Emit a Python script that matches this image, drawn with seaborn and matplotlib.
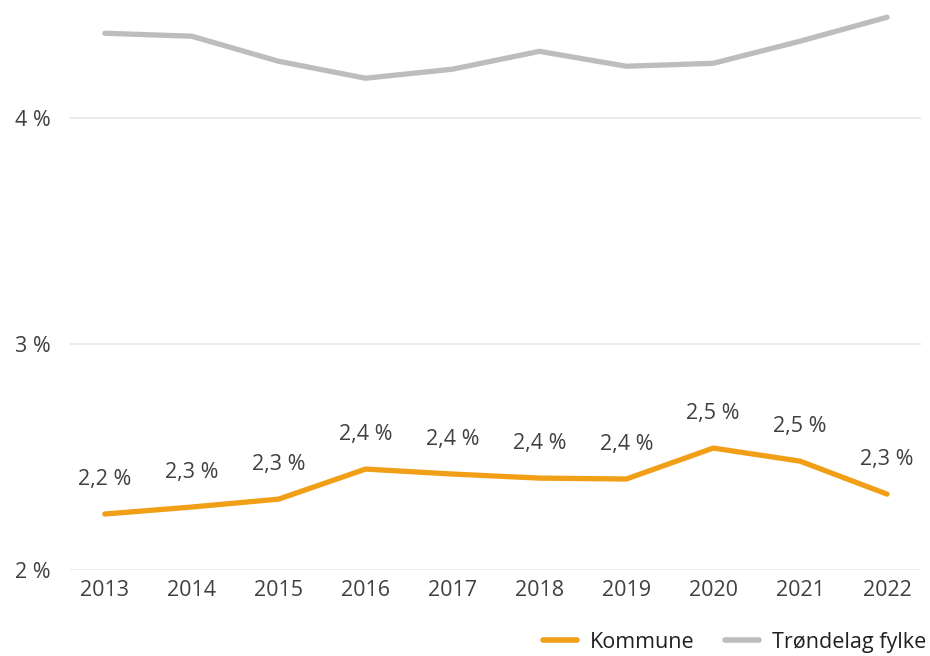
import matplotlib
matplotlib.use("Agg")
import matplotlib.pyplot as plt
import seaborn as sns
import pandas as pd

years = ["2013", "2014", "2015", "2016", "2017", "2018", "2019", "2020", "2021", "2022"]
kommune = [2.248, 2.279, 2.314, 2.447, 2.425, 2.407, 2.403, 2.540, 2.482, 2.336]
trondelag = [4.376, 4.363, 4.252, 4.177, 4.217, 4.296, 4.230, 4.243, 4.341, 4.447]
series_names = ["Kommune", "Trøndelag fylke"]
y_ticks = [2, 3, 4]

sns.set_theme(style="white")
plt.rcParams["font.family"] = ["Open Sans", "DejaVu Sans"]

text_color = "#404040"
fs = 15.5
palette = {"Kommune": "#F29F18", "Trøndelag fylke": "#BDBDBD"}

df = pd.DataFrame({
    "idx": list(range(len(years))) * 2,
    "value": kommune + trondelag,
    "series": [series_names[0]] * len(years) + [series_names[1]] * len(years),
})

fig = plt.figure(figsize=(9.3, 6.56), dpi=100)
ax = fig.add_axes([0.0753, 0.131, 0.915, 0.861])

sns.lineplot(data=df, x="idx", y="value", hue="series", palette=palette,
             linewidth=3.8, ax=ax, legend=False, solid_capstyle="round")

# value labels for the municipality line
for i, v in enumerate(kommune):
    ax.annotate(f"{v:.1f} %".replace(".", ","), (i, v), xytext=(0, 21),
                textcoords="offset points", ha="center", va="baseline",
                fontsize=fs, color=text_color)

ax.set_xlim(-0.40, 9.39)
ax.set_ylim(2, 4.5)
ax.set_xticks(range(len(years)))
ax.set_xticklabels(years)
ax.set_yticks(y_ticks)
ax.set_yticklabels([f"{t} %" for t in y_ticks])
ax.tick_params(axis="both", length=0, labelsize=fs, colors=text_color, pad=7)
ax.tick_params(axis="y", pad=14)
ax.yaxis.grid(True, color="#E6E6E6", linewidth=1.2)
ax.set_axisbelow(True)
for s in ax.spines.values():
    s.set_visible(False)
ax.set_xlabel("")
ax.set_ylabel("")

handles = [plt.Line2D([], [], color=palette[n], linewidth=4) for n in series_names]
fig.legend(handles, series_names, loc="lower right", bbox_to_anchor=(1.017, -0.025),
           ncol=2, frameon=False, fontsize=fs, handlelength=1.6,
           columnspacing=1.4, handletextpad=0.6, labelcolor="#202020")

fig.savefig("out.png", dpi=100)
